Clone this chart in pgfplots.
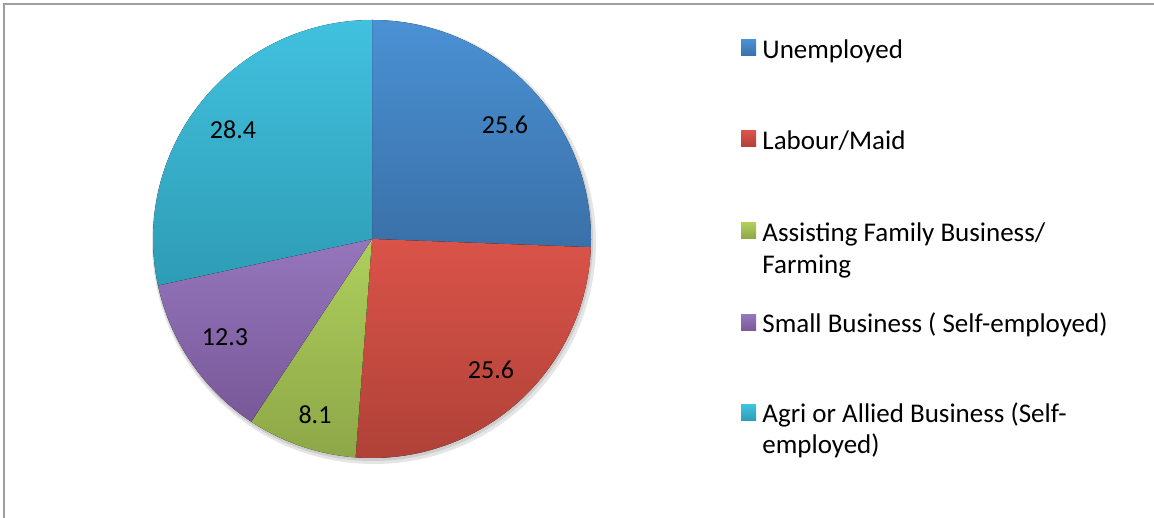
\documentclass[border=0pt]{standalone}
\usepackage{pgfplots}
\pgfplotsset{compat=1.18}
\usepackage{pgfplotstable}
\usepackage{fontspec}
\setmainfont{Carlito}

\definecolor{blueT}{HTML}{4A91D4}
\definecolor{blueB}{HTML}{3A70A8}
\definecolor{redT}{HTML}{DA5349}
\definecolor{redB}{HTML}{AF4137}
\definecolor{greenT}{HTML}{AECF5C}
\definecolor{greenB}{HTML}{8DA747}
\definecolor{purpleT}{HTML}{9576BD}
\definecolor{purpleB}{HTML}{785897}
\definecolor{cyanT}{HTML}{41C1DF}
\definecolor{cyanB}{HTML}{2E9CB5}

% share of respondents (%), clockwise from 12 o'clock; lx,ly = label centre
\pgfplotstableread[col sep=comma]{
label,value,ctop,cbot,lx,ly
Unemployed,25.6,blueT,blueB,505,393
Labour/Maid,25.6,redT,redB,491,148
Assisting,8.1,greenT,greenB,315,103
Small,12.3,purpleT,purpleB,225,181
Agri,28.4,cyanT,cyanB,233,388
}\piedata

\begin{document}
\begin{tikzpicture}
\begin{axis}[
  scale only axis,
  width=577pt, height=259pt,
  xmin=0, xmax=1154, ymin=0, ymax=518,
  hide axis, clip=false,
]
% frame (left and top edge visible)
\draw[black!38, line width=1.2pt] (axis cs:4,0) -- (axis cs:4,514) -- (axis cs:1154,514);

\pgfplotsextra{
  % soft shadow
  \fill[black, opacity=0.10] (axis cs:374,276) circle[radius=111pt];
  \fill[black, opacity=0.10] (axis cs:373,277) circle[radius=110pt];
  \xdef\angA{90}
  \foreach \i in {0,...,4}{
    \pgfplotstablegetelem{\i}{value}\of\piedata \let\val\pgfplotsretval
    \pgfplotstablegetelem{\i}{ctop}\of\piedata \let\ct\pgfplotsretval
    \pgfplotstablegetelem{\i}{cbot}\of\piedata \let\cb\pgfplotsretval
    \pgfmathsetmacro\angB{\angA-3.6*\val}
    \fill[top color=\ct, bottom color=\cb]
      (axis cs:372,279) -- ++(\angA:109.5pt)
      arc[start angle=\angA, end angle=\angB, radius=109.5pt] -- cycle;
    \xdef\angA{\angB}
  }
  \foreach \i in {0,...,4}{
    \pgfplotstablegetelem{\i}{value}\of\piedata \let\val\pgfplotsretval
    \pgfplotstablegetelem{\i}{lx}\of\piedata \let\lx\pgfplotsretval
    \pgfplotstablegetelem{\i}{ly}\of\piedata \let\ly\pgfplotsretval
    \node[font=\fontsize{13}{15}\selectfont, inner sep=0pt] at (axis cs:\lx,\ly) {\val};
  }
}

% legend
\pgfplotsextra{
  \fill[top color=blueT, bottom color=blueB] (axis cs:741,478) rectangle (axis cs:756,462);
  \fill[top color=redT, bottom color=redB] (axis cs:741,387) rectangle (axis cs:756,371);
  \fill[top color=greenT, bottom color=greenB] (axis cs:741,295) rectangle (axis cs:756,279);
  \fill[top color=purpleT, bottom color=purpleB] (axis cs:741,203) rectangle (axis cs:756,187);
  \fill[top color=cyanT, bottom color=cyanB] (axis cs:741,113) rectangle (axis cs:756,97);
}
\begin{scope}[every node/.style={anchor=base west, inner sep=0pt, font=\fontsize{13.5}{16}\selectfont}]
\node at (axis cs:762,459) {Unemployed};
\node at (axis cs:762,368) {Labour/Maid};
\node at (axis cs:762,276.3) {Assisting Family Business/};
\node at (axis cs:762,244.3) {Farming};
\node at (axis cs:762,185.7) {Small Business ( Self-employed)};
\node at (axis cs:762,95.3) {Agri or Allied Business (Self-};
\node at (axis cs:762,64.7) {employed)};
\end{scope}
\end{axis}
\pgfresetboundingbox
\path (current axis.south west) rectangle (current axis.north east);
\end{tikzpicture}
\end{document}
